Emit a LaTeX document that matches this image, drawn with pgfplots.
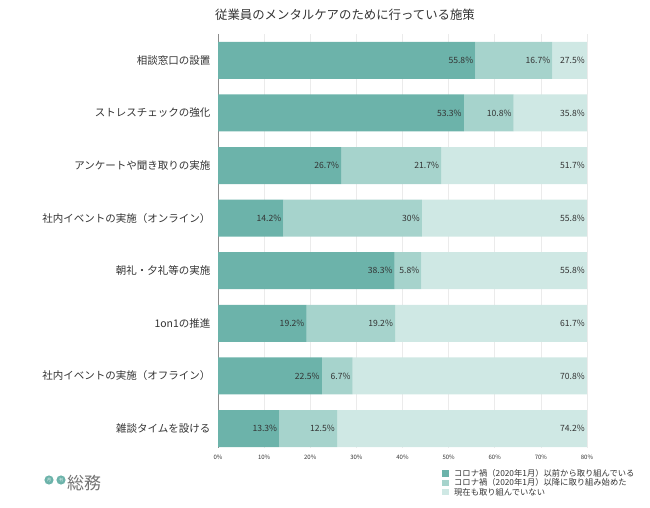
\documentclass[border=0pt]{standalone}
\usepackage{pgfplots}
\pgfplotsset{compat=1.18}
\usepackage{pgfplotstable}
\usepackage{fontspec}
\setmainfont{Noto Sans CJK JP}
\definecolor{c1}{HTML}{6CB3AA}
\definecolor{c2}{HTML}{A6D3CC}
\definecolor{c3}{HTML}{CFE8E4}
\definecolor{txt}{HTML}{333333}

\pgfplotstableread{
y a b c
1 55.8 16.7 27.5
2 53.3 10.8 35.8
3 26.7 21.7 51.7
4 14.2 30.0 55.8
5 38.3 5.8 55.8
6 19.2 19.2 61.7
7 22.5 6.7 70.8
8 13.3 12.5 74.2
}\datatable

% label positions: x = segment end (clipped to 80), meta = value
\pgfplotstableread{
x y v
55.8 1 55.8
72.5 1 16.7
80 1 27.5
53.3 2 53.3
64.1 2 10.8
80 2 35.8
26.7 3 26.7
48.4 3 21.7
80 3 51.7
14.2 4 14.2
44.2 4 30
80 4 55.8
38.3 5 38.3
44.1 5 5.8
80 5 55.8
19.2 6 19.2
38.4 6 19.2
80 6 61.7
22.5 7 22.5
29.2 7 6.7
80 7 70.8
13.3 8 13.3
25.8 8 12.5
80 8 74.2
}\labeltable

\pgfplotsset{
  /pgf/number format/assume math mode=true,
  common/.style={
    at={(218pt,60pt)}, anchor=south west,
    scale only axis, width=369pt, height=414pt,
    xmin=0, xmax=80, ymin=0.5, ymax=8.37, y dir=reverse,
  }
}

\begin{document}
\begin{tikzpicture}[x=1pt,y=1pt]
\useasboundingbox (0,0) rectangle (650,508);

\node[font=\fontsize{12.4}{14}\selectfont, text=txt] at (345,493) {従業員のメンタルケアのために行っている施策};

\begin{axis}[common,
  xbar stacked, bar width=37pt,
  axis lines=left, axis line style={-},
  x axis line style={draw=none},
  y axis line style={draw=black!45, line width=0.8pt},
  major tick length=0pt,
  xmajorgrids, grid style={black!8, line width=0.6pt},
  xtick={0,10,...,80},
  xticklabel={\pgfmathprintnumber{\tick}\%},
  xticklabel style={font=\fontsize{6}{7}\selectfont, text=txt, yshift=-3pt},
  ytick={1,...,8},
  yticklabels={相談窓口の設置,ストレスチェックの強化,アンケートや聞き取りの実施,社内イベントの実施（オンライン）,朝礼・夕礼等の実施,1on1の推進,社内イベントの実施（オフライン）,雑談タイムを設ける},
  yticklabel style={font=\fontsize{10.5}{12}\selectfont, text=txt, xshift=-4pt},
  legend style={at={(0.607,-0.047)}, anchor=north west, draw=none, fill=none,
    font=\fontsize{8.3}{8.5}\selectfont, text=txt, row sep=-3.4pt, inner sep=0pt,
    cells={anchor=west}},
  legend image code/.code={\fill[#1] (0pt,-3pt) rectangle (6.5pt,3.5pt); \path (10pt,0pt);},
]
\addplot[fill=c1, draw=none] table[x=a, y=y] {\datatable};
\addplot[fill=c2, draw=none] table[x=b, y=y] {\datatable};
\addplot[fill=c3, draw=none] table[x=c, y=y] {\datatable};
\legend{コロナ禍（2020年1月）以前から取り組んでいる,コロナ禍（2020年1月）以降に取り組み始めた,現在も取り組んでいない}
\end{axis}

\begin{axis}[common, hide axis]
\addplot[draw=none, mark=none, point meta=explicit,
  nodes near coords={\pgfmathprintnumber[fixed, precision=1]{\pgfplotspointmeta}\%},
  nodes near coords style={anchor=east, xshift=-2pt, inner sep=0pt,
    font=\fontsize{8.6}{9}\selectfont, text=txt}]
  table[x=x, y=y, meta=v] {\labeltable};
\end{axis}

% logo
\fill[c1] (49,28) circle (4.6);
\fill[c1] (61,28) circle (4.6);
\node[text=white, font=\fontsize{4}{4}\selectfont, inner sep=0pt] at (49,28) {月};
\node[text=white, font=\fontsize{4}{4}\selectfont, inner sep=0pt] at (61,28) {刊};
\node[text=black!55, font=\fontsize{17}{18}\selectfont, anchor=west, inner sep=0pt] at (67,25) {総務};
\end{tikzpicture}
\end{document}
